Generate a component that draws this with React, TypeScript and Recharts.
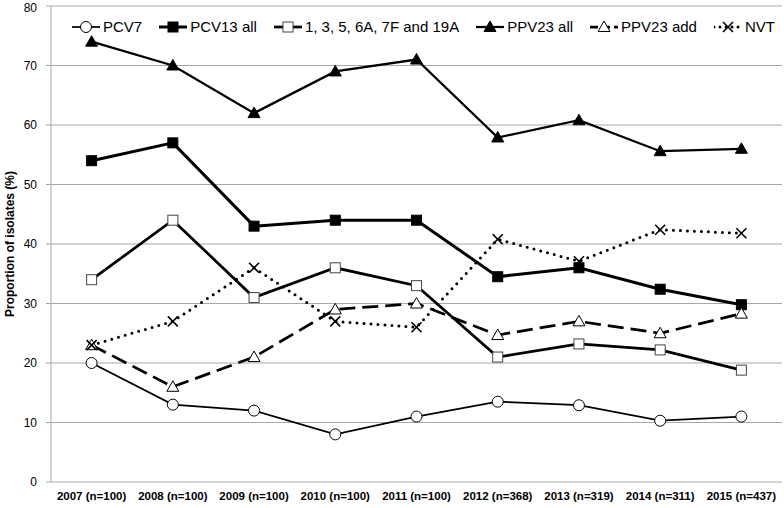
import { CartesianGrid, Label, Line, LineChart, XAxis, YAxis } from "recharts";

const yearLabels = [
  "2007 (n=100)",
  "2008 (n=100)",
  "2009 (n=100)",
  "2010 (n=100)",
  "2011 (n=100)",
  "2012 (n=368)",
  "2013 (n=319)",
  "2014 (n=311)",
  "2015 (n=437)",
];

const pcv7 = [20, 13, 12, 8, 11, 13.5, 12.9, 10.3, 11];
const pcv13All = [54, 57, 43, 44, 44, 34.5, 36, 32.4, 29.8];
const addSix = [34, 44, 31, 36, 33, 21, 23.2, 22.2, 18.8];
const ppv23All = [74, 70, 62, 69, 71, 57.9, 60.8, 55.6, 56];
const ppv23Add = [23, 16, 21, 29, 30, 24.7, 27, 25, 28.3];
const nvt = [23, 27, 36, 27, 26, 40.8, 37.1, 42.4, 41.8];

const yTicks = [0, 10, 20, 30, 40, 50, 60, 70, 80];

const data = yearLabels.map((label, i) => ({
  idx: i,
  label,
  pcv7: pcv7[i],
  pcv13All: pcv13All[i],
  addSix: addSix[i],
  ppv23All: ppv23All[i],
  ppv23Add: ppv23Add[i],
  nvt: nvt[i],
}));

const centerTicks = yearLabels.map((_, i) => i);
const boundaryTicks = [...yearLabels.map((_, i) => i - 0.5), yearLabels.length - 0.5];

type MarkerKind = "circle" | "square" | "triangle" | "x";

interface SeriesDef {
  key: string;
  name: string;
  marker: MarkerKind;
  filled: boolean;
  width: number;
  dash?: string;
  cap?: "round" | "butt";
}

const series: SeriesDef[] = [
  { key: "pcv7", name: "PCV7", marker: "circle", filled: false, width: 1.75 },
  { key: "pcv13All", name: "PCV13 all", marker: "square", filled: true, width: 3 },
  { key: "addSix", name: "1, 3, 5, 6A, 7F and 19A", marker: "square", filled: false, width: 2.75 },
  { key: "ppv23All", name: "PPV23 all", marker: "triangle", filled: true, width: 2.25 },
  { key: "ppv23Add", name: "PPV23 add", marker: "triangle", filled: false, width: 2.75, dash: "16 7" },
  { key: "nvt", name: "NVT", marker: "x", filled: false, width: 3, dash: "0 7", cap: "round" },
];

const FONT = "'Liberation Sans', Arial, sans-serif";
const GRID = "#a8a8a8";

function Marker({ kind, filled, cx, cy }: { kind: MarkerKind; filled: boolean; cx: number; cy: number }) {
  const fill = filled ? "#000" : "#fff";
  if (kind === "circle") {
    return <circle cx={cx} cy={cy} r={5.5} fill={fill} stroke="#000" strokeWidth={1} />;
  }
  if (kind === "square") {
    return (
      <rect x={cx - 5} y={cy - 5} width={10} height={10} fill={fill} stroke={filled ? "#000" : "#444"} strokeWidth={1} />
    );
  }
  if (kind === "triangle") {
    return (
      <polygon
        points={`${cx},${cy - 6} ${cx + 6},${cy + 4.5} ${cx - 6},${cy + 4.5}`}
        fill={fill}
        stroke="#000"
        strokeWidth={1}
      />
    );
  }
  return (
    <g stroke="#000" strokeWidth={1.6}>
      <line x1={cx - 5} y1={cy - 5} x2={cx + 5} y2={cy + 5} />
      <line x1={cx - 5} y1={cy + 5} x2={cx + 5} y2={cy - 5} />
    </g>
  );
}

function LegendIcon({ s }: { s: SeriesDef }) {
  return (
    <svg width={28} height={14} style={{ display: "block" }}>
      <line
        x1={0}
        y1={7}
        x2={28}
        y2={7}
        stroke="#000"
        strokeWidth={s.width}
        strokeDasharray={s.dash ? (s.cap === "round" ? "0 6" : "8 4") : undefined}
        strokeLinecap={s.cap ?? "butt"}
      />
      <Marker kind={s.marker} filled={s.filled} cx={14} cy={7} />
    </svg>
  );
}

export default function App() {
  return (
    <div style={{ position: "relative", width: 784, height: 508 }}>
      <style>{"body{margin:0}"}</style>
      <LineChart
        width={784}
        height={508}
        data={data}
        margin={{ top: 6, right: 2, bottom: 0, left: 0 }}
        style={{ fontFamily: FONT }}
      >
        <CartesianGrid vertical={false} stroke={GRID} xAxisId="labels" />
        <XAxis
          xAxisId="bounds"
          dataKey="idx"
          type="number"
          domain={[-0.5, yearLabels.length - 0.5]}
          ticks={boundaryTicks}
          tick={false}
          tickSize={6}
          tickLine={{ stroke: GRID }}
          axisLine={{ stroke: GRID }}
          height={0}
        />
        <XAxis
          xAxisId="labels"
          dataKey="idx"
          type="number"
          domain={[-0.5, yearLabels.length - 0.5]}
          ticks={centerTicks}
          interval={0}
          tickFormatter={(i: number) => yearLabels[i]}
          tickLine={false}
          axisLine={false}
          tick={{ fill: "#000", fontSize: 11.5, fontWeight: 700 }}
          tickMargin={4}
          height={26}
        />
        <YAxis
          domain={[0, 80]}
          ticks={yTicks}
          width={51}
          tick={{ fill: "#000", fontSize: 12 }}
          tickSize={5}
          tickMargin={9}
          tickLine={{ stroke: GRID }}
          axisLine={{ stroke: GRID }}
        >
          <Label
            value="Proportion of isolates (%)"
            angle={-90}
            position="insideLeft"
            offset={10}
            style={{ textAnchor: "middle", fontSize: 12, fontWeight: 700, fill: "#000" }}
          />
        </YAxis>
        {series.map((s) => (
          <Line
            key={s.key}
            xAxisId="labels"
            dataKey={s.key}
            name={s.name}
            stroke="#000"
            strokeWidth={s.width}
            strokeDasharray={s.dash}
            strokeLinecap={s.cap ?? "butt"}
            isAnimationActive={false}
            dot={(p: any) => (
              <Marker key={`${s.key}-${p.index}`} kind={s.marker} filled={s.filled} cx={p.cx} cy={p.cy} />
            )}
            activeDot={false}
          />
        ))}
      </LineChart>
      <div
        style={{
          position: "absolute",
          left: 72,
          top: 18,
          display: "flex",
          alignItems: "center",
          gap: 17,
          fontFamily: FONT,
          fontSize: 15,
          lineHeight: "18px",
          whiteSpace: "nowrap",
        }}
      >
        {series.map((s) => (
          <div key={s.key} style={{ display: "flex", alignItems: "center", gap: 3 }}>
            <LegendIcon s={s} />
            <span>{s.name}</span>
          </div>
        ))}
      </div>
    </div>
  );
}
